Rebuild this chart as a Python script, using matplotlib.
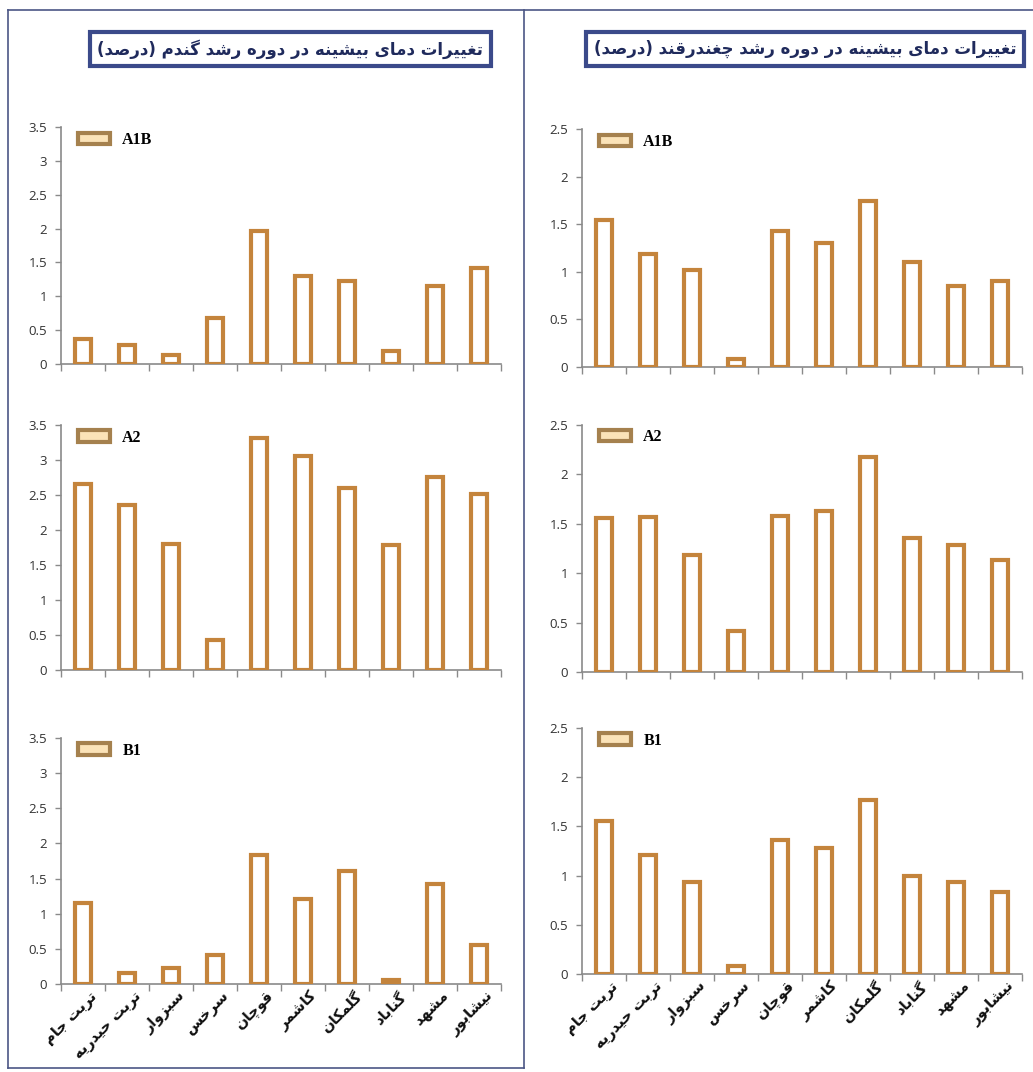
import matplotlib
matplotlib.use("Agg")
import matplotlib.pyplot as plt
from matplotlib.patches import Patch
from matplotlib.lines import Line2D

# ---- data ----
cities = ["تربت جام", "تربت حیدریه", "سبزوار", "سرخس", "قوچان",
          "کاشمر", "گلمکان", "گناباد", "مشهد", "نیشابور"]

wheat_title = "تغییرات دمای بیشینه در دوره رشد گندم (درصد)"
beet_title = "تغییرات دمای بیشینه در دوره رشد چغندرقند (درصد)"

scenarios = ["A1B", "A2", "B1"]

wheat_a1b = [0.37, 0.28, 0.14, 0.68, 1.97, 1.30, 1.22, 0.19, 1.15, 1.42]
wheat_a2 = [2.65, 2.36, 1.80, 0.43, 3.31, 3.05, 2.60, 1.78, 2.75, 2.51]
wheat_b1 = [1.15, 0.16, 0.23, 0.41, 1.84, 1.21, 1.61, 0.06, 1.42, 0.56]

beet_a1b = [1.54, 1.19, 1.02, 0.08, 1.43, 1.30, 1.74, 1.10, 0.85, 0.90]
beet_a2 = [1.56, 1.57, 1.18, 0.41, 1.58, 1.63, 2.18, 1.36, 1.29, 1.13]
beet_b1 = [1.55, 1.21, 0.93, 0.08, 1.36, 1.28, 1.77, 1.00, 0.94, 0.83]

wheat_ticks = [0, 0.5, 1, 1.5, 2, 2.5, 3, 3.5]
beet_ticks = [0, 0.5, 1, 1.5, 2, 2.5]


# minimal persian shaping: (isolated, final, initial, medial)
FORMS = {
    "ا": ("\uFE8D", "\uFE8E", None, None),
    "ب": ("\uFE8F", "\uFE90", "\uFE91", "\uFE92"),
    "ت": ("\uFE95", "\uFE96", "\uFE97", "\uFE98"),
    "ج": ("\uFE9D", "\uFE9E", "\uFE9F", "\uFEA0"),
    "ح": ("\uFEA1", "\uFEA2", "\uFEA3", "\uFEA4"),
    "خ": ("\uFEA5", "\uFEA6", "\uFEA7", "\uFEA8"),
    "د": ("\uFEA9", "\uFEAA", None, None),
    "ر": ("\uFEAD", "\uFEAE", None, None),
    "ز": ("\uFEAF", "\uFEB0", None, None),
    "س": ("\uFEB1", "\uFEB2", "\uFEB3", "\uFEB4"),
    "ش": ("\uFEB5", "\uFEB6", "\uFEB7", "\uFEB8"),
    "ص": ("\uFEB9", "\uFEBA", "\uFEBB", "\uFEBC"),
    "غ": ("\uFECD", "\uFECE", "\uFECF", "\uFED0"),
    "ق": ("\uFED5", "\uFED6", "\uFED7", "\uFED8"),
    "ل": ("\uFEDD", "\uFEDE", "\uFEDF", "\uFEE0"),
    "م": ("\uFEE1", "\uFEE2", "\uFEE3", "\uFEE4"),
    "ن": ("\uFEE5", "\uFEE6", "\uFEE7", "\uFEE8"),
    "ه": ("\uFEE9", "\uFEEA", "\uFEEB", "\uFEEC"),
    "و": ("\uFEED", "\uFEEE", None, None),
    "ی": ("\uFBFC", "\uFBFD", "\uFBFE", "\uFBFF"),
    "ک": ("\uFB8E", "\uFB8F", "\uFB90", "\uFB91"),
    "گ": ("\uFB92", "\uFB93", "\uFB94", "\uFB95"),
    "چ": ("\uFB7A", "\uFB7B", "\uFB7C", "\uFB7D"),
}


def fa(text):
    out = []
    for i, ch in enumerate(text):
        if ch not in FORMS:
            out.append(ch)
            continue
        prev = text[i - 1] if i > 0 else ""
        nxt = text[i + 1] if i < len(text) - 1 else ""
        joins_prev = prev in FORMS and FORMS[prev][2] is not None
        joins_next = FORMS[ch][2] is not None and nxt in FORMS
        f = FORMS[ch]
        if joins_prev and joins_next:
            out.append(f[3])
        elif joins_prev:
            out.append(f[1])
        elif joins_next:
            out.append(f[2])
        else:
            out.append(f[0])
    vis = "".join(reversed(out))
    return vis.replace("(", "\0").replace(")", "(").replace("\0", ")")


W, H = 1033, 1072
fig = plt.figure(figsize=(W / 100, H / 100), dpi=100)
fig.patch.set_facecolor("white")

bar_edge = "#c4843c"
frame_col = "#4b5685"


def px_axes(x0, x1, ytop, ybot):
    return fig.add_axes([x0 / W, 1 - ybot / H, (x1 - x0) / W, (ybot - ytop) / H])


def draw_panel(ax, vals, ticks, label, show_names):
    x = list(range(len(cities)))
    ax.bar(x, vals, width=0.36, color="white", edgecolor=bar_edge, linewidth=3.0, zorder=3)
    ax.set_xlim(-0.5, len(cities) - 0.5)
    ax.set_ylim(0, ticks[-1])
    ax.set_yticks(ticks)
    ax.set_yticklabels(["%g" % t for t in ticks], fontsize=9.5, color="#333333", family="Open Sans")
    ax.set_xticks([i - 0.5 for i in range(len(cities) + 1)])
    ax.set_xticklabels([])
    ax.tick_params(axis="x", length=5, width=1, color="#8a8a8a", direction="out")
    ax.tick_params(axis="y", length=4, width=1, color="#8a8a8a", direction="out", pad=6)
    for s in ["top", "right"]:
        ax.spines[s].set_visible(False)
    for s in ["left", "bottom"]:
        ax.spines[s].set_color("#8a8a8a")
        ax.spines[s].set_linewidth(1.2)
    h = Patch(facecolor="#fbe3b8", edgecolor="#a5814e", linewidth=3)
    ax.legend([h], [label], loc="upper left", bbox_to_anchor=(0.005, 1.04),
              frameon=False, handlelength=2.0, handleheight=0.7, handletextpad=0.8,
              prop={"family": "Liberation Serif", "weight": "bold", "size": 11.5})
    if show_names:
        for i, name in enumerate(cities):
            ax.text(i + 0.15, -0.02, fa(name), transform=ax.get_xaxis_transform(),
                    rotation=45, rotation_mode="anchor", ha="right", va="top",
                    fontsize=10.5, fontweight="bold", family="DejaVu Sans", color="#111111")


wheat = [wheat_a1b, wheat_a2, wheat_b1]
beet = [beet_a1b, beet_a2, beet_b1]
left_rows = [(127, 364), (425, 670), (738, 984)]
right_rows = [(129, 367), (425, 672), (728, 974)]

for k in range(3):
    ax = px_axes(61, 501, left_rows[k][0], left_rows[k][1])
    draw_panel(ax, wheat[k], wheat_ticks, scenarios[k], k == 2)
    ax = px_axes(582, 1022, right_rows[k][0], right_rows[k][1])
    draw_panel(ax, beet[k], beet_ticks, scenarios[k], k == 2)

# titles in boxes
for xc, t in [(290, wheat_title), (805, beet_title)]:
    fig.text(xc / W, 1 - 49 / H, fa(t), ha="center", va="center", fontsize=12,
             fontweight="bold", color="#1f2a5c", family="DejaVu Sans",
             bbox=dict(boxstyle="square,pad=0.45", fc="white", ec="#3b4a8a", lw=3))


# page frame lines
def fline(x0, y0, x1, y1):
    fig.add_artist(Line2D([x0 / W, x1 / W], [1 - y0 / H, 1 - y1 / H],
                          transform=fig.transFigure, color=frame_col, lw=1.2))


fline(8, 10, 1033, 10)
fline(8, 10, 8, 1068)
fline(524, 10, 524, 1068)
fline(8, 1068, 524, 1068)

fig.savefig("out.png", dpi=100, facecolor="white")
